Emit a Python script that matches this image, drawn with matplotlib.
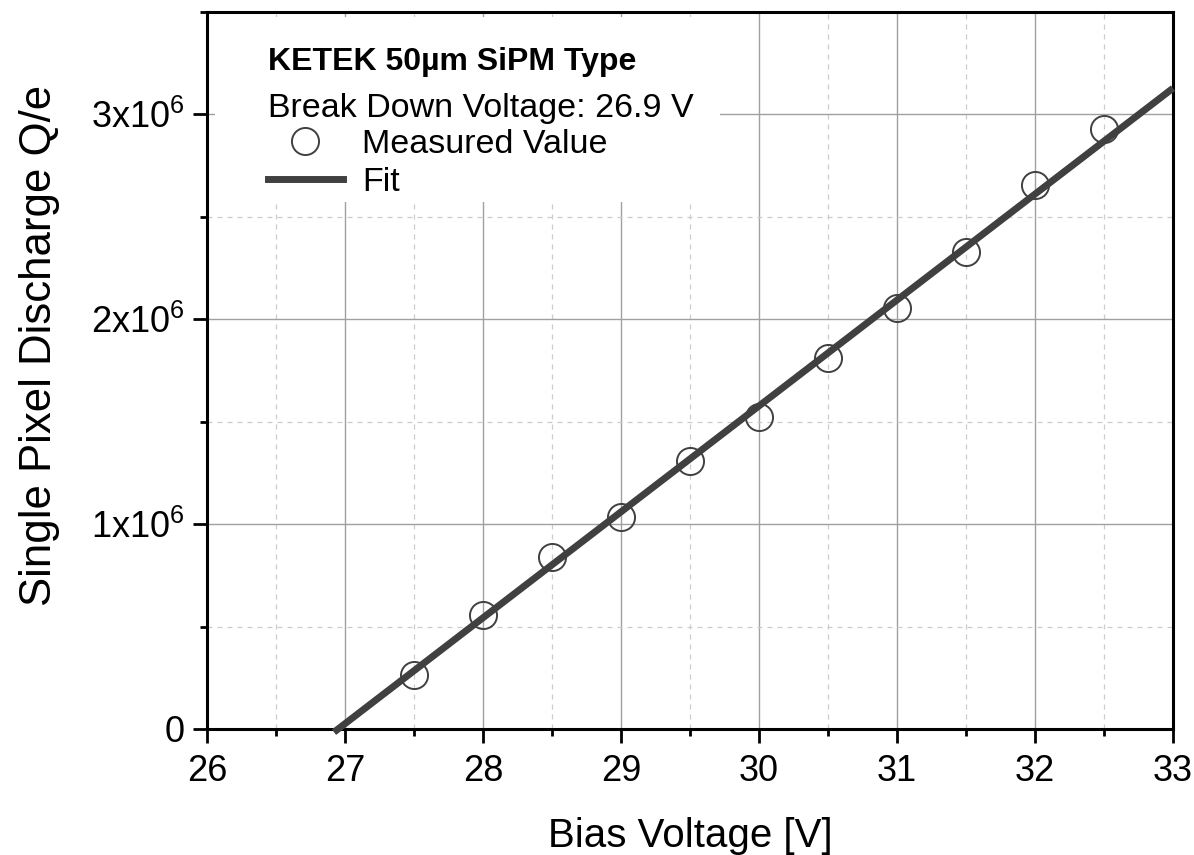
import numpy as np
import matplotlib
matplotlib.use("Agg")
import matplotlib.pyplot as plt
from matplotlib.lines import Line2D
from matplotlib.patches import Rectangle
from matplotlib.ticker import FixedLocator, FuncFormatter, MultipleLocator

plt.rcParams['font.family'] = ['Liberation Sans', 'DejaVu Sans']
plt.rcParams['mathtext.fontset'] = 'custom'
plt.rcParams['mathtext.rm'] = 'Liberation Sans'

# Data
bias_voltage = [27.5, 28.0, 28.5, 29.0, 29.5, 30.0, 30.5, 31.0, 31.5, 32.0, 32.5]
discharge = [0.263e6, 0.555e6, 0.838e6, 1.033e6, 1.310e6, 1.525e6, 1.812e6,
             2.057e6, 2.328e6, 2.655e6, 2.928e6]
fit_zero_voltage = 26.95
fit_slope = 0.517e6  # per volt
fit_x = [26.92, 33.0]
title_text = "KETEK 50µm SiPM Type"
sub_text = "Break Down Voltage: 26.9 V"
y_ticks = [0, 1e6, 2e6, 3e6]
x_ticks = [26, 27, 28, 29, 30, 31, 32, 33]

fig = plt.figure(figsize=(11.94, 8.55), dpi=100)
ax = fig.add_axes([0.1734, 0.1474, 0.8090, 0.8386])

dark = '#404040'
fx = np.array(fit_x)
fy = fit_slope * (fx - fit_zero_voltage)

ax.plot(bias_voltage, discharge, linestyle='none', marker='o', markersize=19.5,
        markerfacecolor='none', markeredgecolor=dark, markeredgewidth=1.4, zorder=4)
ax.plot(fx, fy, color=dark, linewidth=5, solid_capstyle='butt', zorder=5, clip_on=False)

ax.set_xlim(26, 33)
ax.set_ylim(0, 3.5e6)
ax.xaxis.set_major_locator(FixedLocator(x_ticks))
ax.xaxis.set_minor_locator(MultipleLocator(0.5))
ax.yaxis.set_major_locator(FixedLocator(y_ticks))
ax.yaxis.set_minor_locator(MultipleLocator(0.5e6))

def yfmt(v, pos):
    if v == 0:
        return '0'
    return r'$\mathregular{%dx10^{6}}$' % round(v / 1e6)

ax.yaxis.set_major_formatter(FuncFormatter(yfmt))

ax.grid(which='major', color='#a0a0a0', linewidth=1.0, linestyle='-', zorder=0)
ax.grid(which='minor', color='#cccccc', linewidth=0.9, linestyle=(0, (4, 4)), zorder=0)
ax.set_axisbelow(True)

for s in ax.spines.values():
    s.set_linewidth(2.2)
    s.set_color('black')

ax.tick_params(which='major', direction='out', length=10, width=2.0, labelsize=26, pad=8)
ax.tick_params(which='minor', direction='out', length=5, width=2.0)
ax.tick_params(axis='y', which='major', pad=6)

ax.set_xlabel('Bias Voltage [V]', fontsize=29, labelpad=20)
ax.set_ylabel('Single Pixel Discharge Q/e', fontsize=31.5)
ax.yaxis.set_label_coords(-0.152, 0.5356)

# legend box
ax.add_patch(Rectangle((0.008, 0.735), 0.523, 0.258, transform=ax.transAxes,
                       facecolor='white', edgecolor='none', zorder=1))
ax.text(0.063, 0.919, title_text, transform=ax.transAxes, fontsize=23,
        fontweight='bold', va='baseline', ha='left', zorder=6)
ax.text(0.063, 0.8536, sub_text, transform=ax.transAxes, fontsize=24.5,
        va='baseline', ha='left', zorder=6)

handles = [Line2D([], [], linestyle='none', marker='o', markersize=19.5,
                  markerfacecolor='none', markeredgecolor=dark, markeredgewidth=1.4),
           Line2D([], [], color=dark, linewidth=5)]
leg = ax.legend(handles, ['Measured Value', 'Fit'], loc='upper left',
                bbox_to_anchor=(0.063, 0.837), frameon=False, fontsize=24.5,
                borderpad=0, borderaxespad=0, handlelength=2.2, handletextpad=0.58,
                labelspacing=0.2)
leg.set_zorder(6)

fig.savefig('out.png', dpi=100)
